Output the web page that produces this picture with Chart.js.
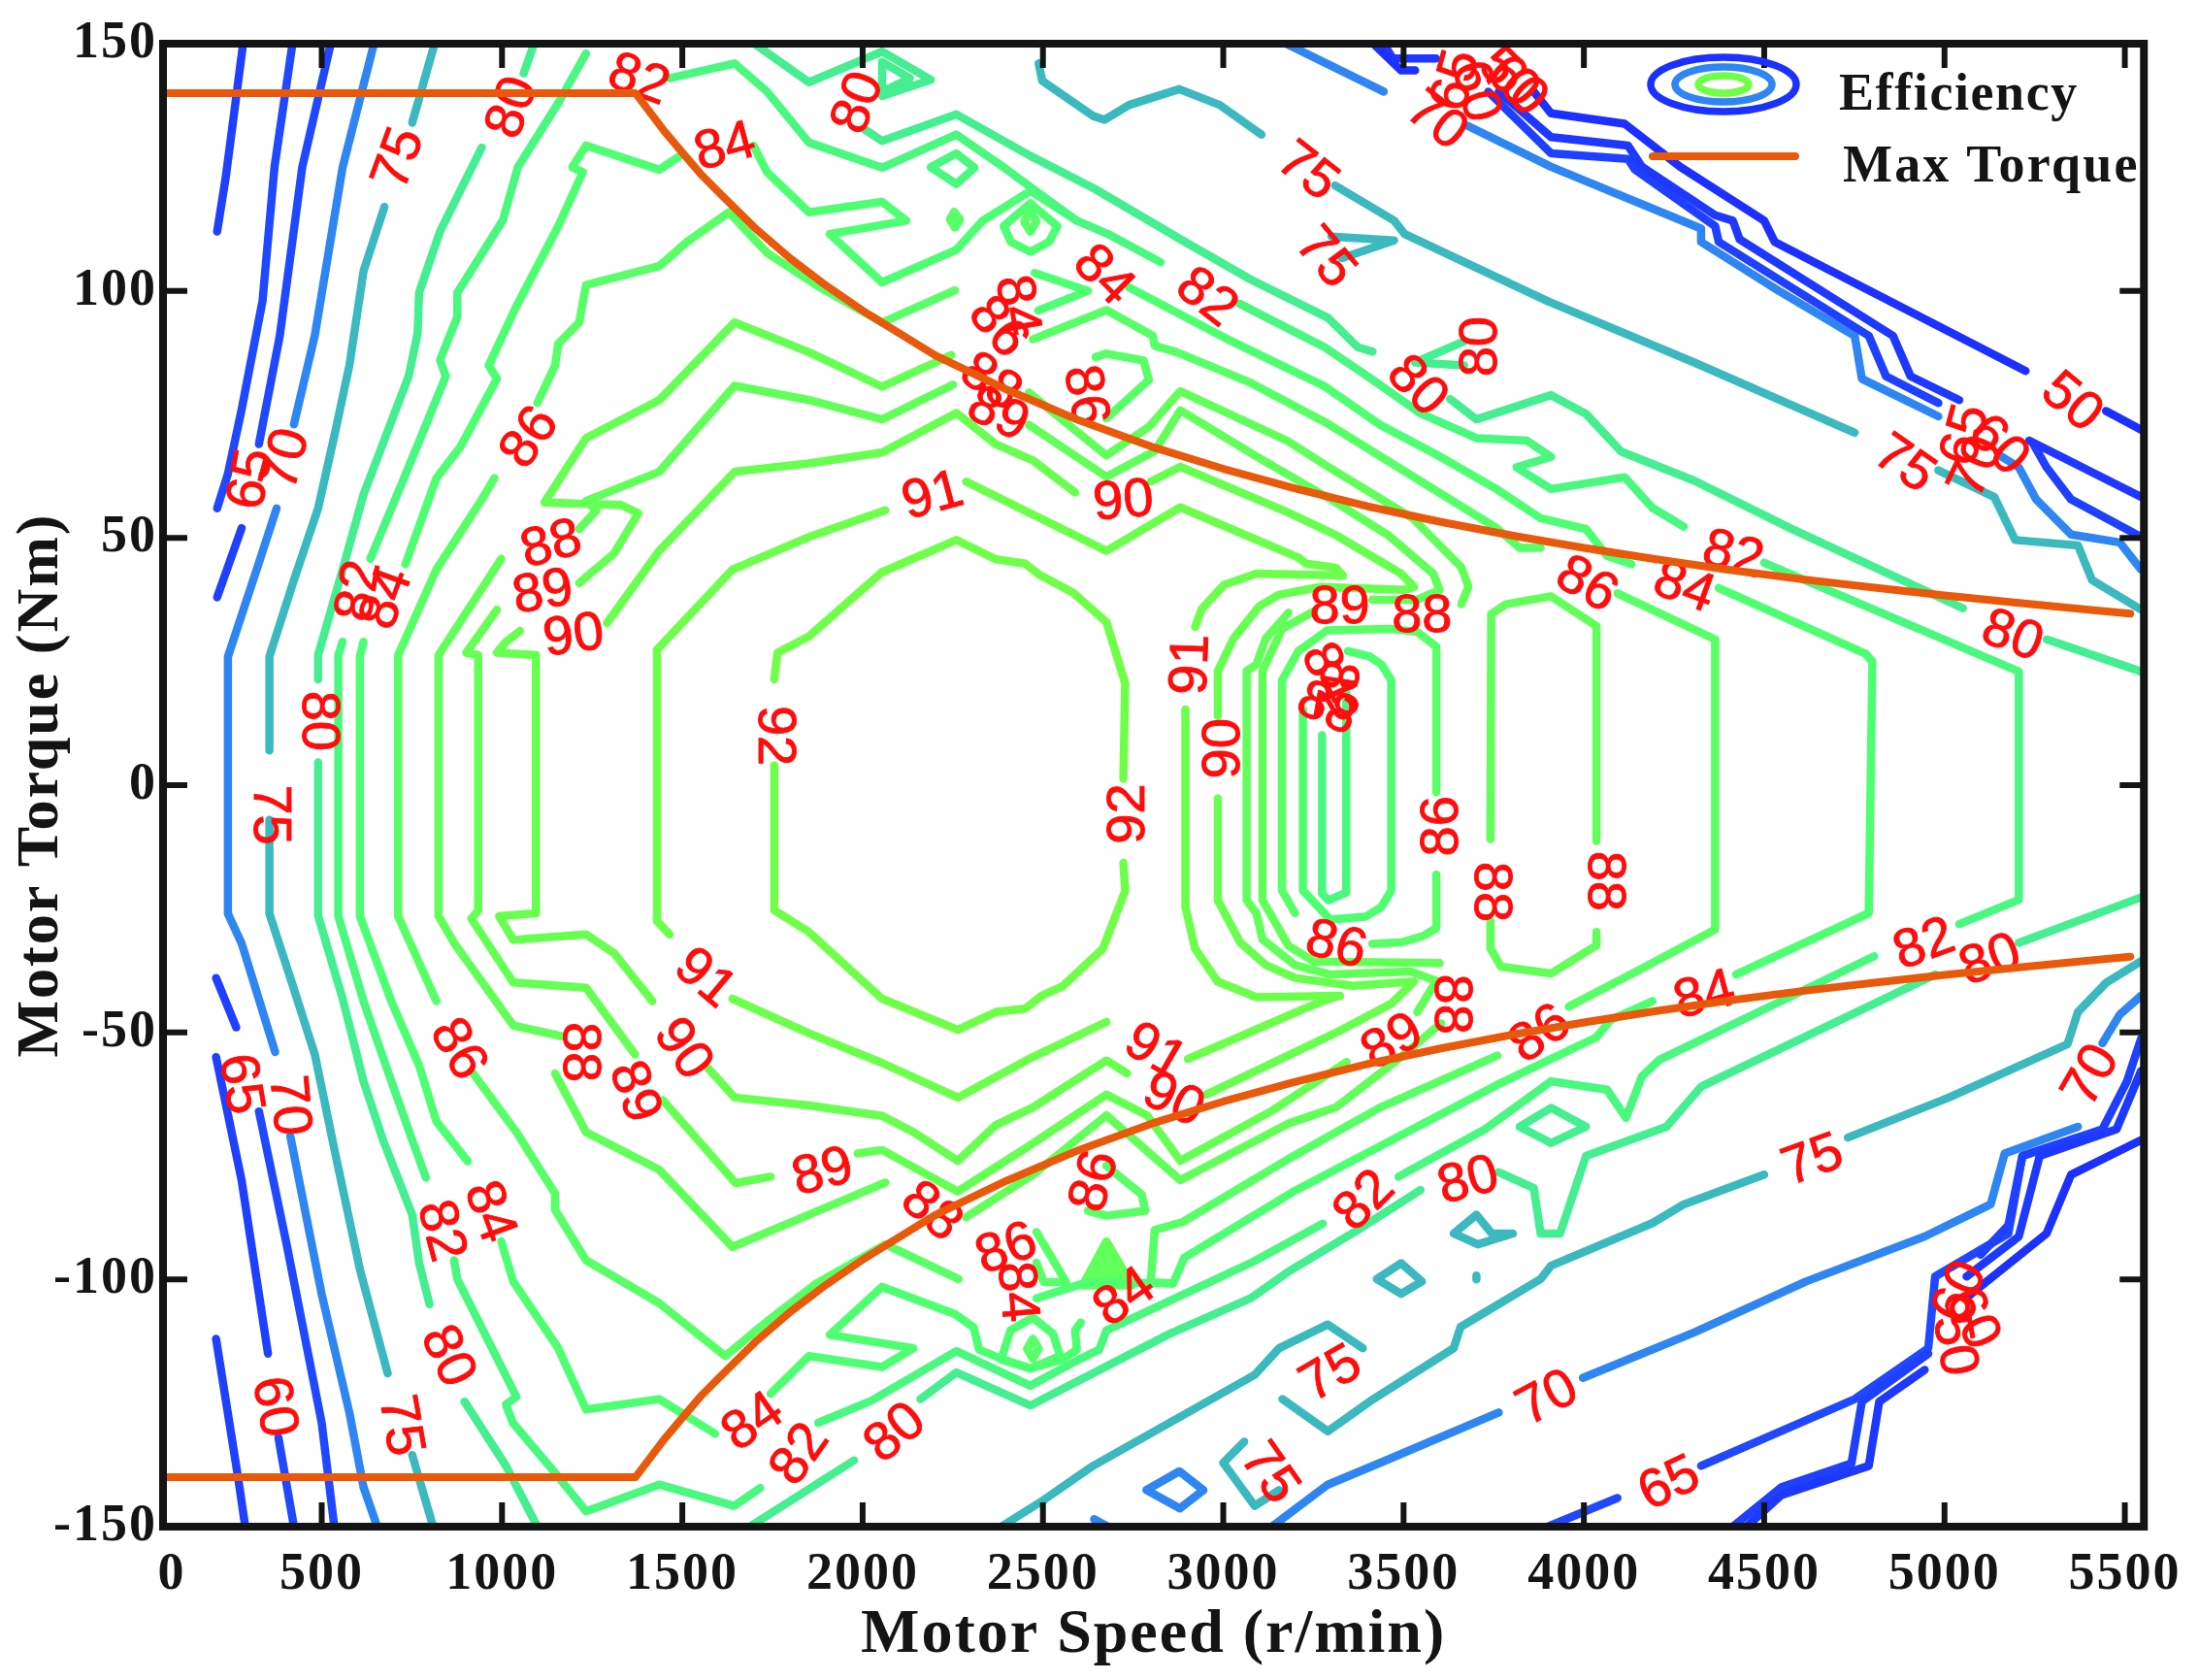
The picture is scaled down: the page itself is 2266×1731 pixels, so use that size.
<!DOCTYPE html>
<html><head><meta charset="utf-8">
<style>html,body{margin:0;padding:0;background:#fff}canvas{display:block}</style>
<script src="https://cdn.jsdelivr.net/npm/chart.js@4"></script>
</head><body><canvas id="c" width="2266" height="1731"></canvas>
<script>
// ---- axes
const xTickValues=[84,500,1000,1500,2000,2500,3000,3500,4000,4500,5000,5500];
const xTickLabels=["0","500","1000","1500","2000","2500","3000","3500","4000","4500","5000","5500"];
const yTickValues=[-150,-100,-50,0,50,100,150];
const xTitle="Motor Speed (r/min)", yTitle="Motor Torque (Nm)";
const legendLabels=["Efficiency","Max Torque"];
// ---- max torque curve
const torqueSpeed=[60,1370,1450,1500,1550,1600,1700,1800,1900,2000,2200,2400,2600,2800,3000,3200,3400,3600,3800,4000,4200,4400,4600,4800,5000,5200,5400,5515];
const torqueUpper=[140,140,132.3,128,123.7,120,112.8,106.5,101,96,87,80,73.8,68.5,64,60,56.4,53.3,50.5,48,45.7,43.6,41.7,40,38.4,36.9,35.5,34.7];
const torqueLower=[-140,-140,-132.3,-128,-123.7,-120,-112.8,-106.5,-101,-96,-87,-80,-73.8,-68.5,-64,-60,-56.4,-53.3,-50.5,-48,-45.7,-43.6,-41.7,-40,-38.4,-36.9,-35.5,-34.7];
// ---- contour pieces: x,y pairs
const c50a=[3416,150,3493,144.6,3532,144.6];
const c50b=[3861,140.3,3909,135.9,4113,133.8,4267,125.1,4500,114.2,4529,109.9,5225,83.8];
const c50c=[5448,75.7,5545,71.9];
const c50d=[5061,-103.7,5283,-90.7,5351,-78.8,5545,-71.8];
const c55a=[3445,150,3470,147,3590,147];
const c55b=[3764,140.3,3909,131.1,4122,129.4,4161,125.1,4364,115.3,4413,114.2,4432,110.4,4857,90.9,4906,82.7,5041,77.9];
const c55c=[5235,69.7,5545,58.3];
const c55d=[5061,-99.4,5206,-91.3,5264,-75,5477,-69.6,5545,-57.8];
const c55e=[4451,-150,4548,-143.6,4790,-137.7,4819,-124.7,4945,-118.3];
const c60a=[282,150,259,137,234,123,210,112];
const c60b=[278,52,210,38];
const c60c=[207,-39,263,-49];
const c60d=[207,-55,278,-80,351,-115];
const c60e=[207,-112,268,-140,288,-150];
const c60f=[3735,140.3,3909,127.8,4122,126.7,4142,124.5,4364,113.1,4374,109.9,4790,90.9,4838,82.7,4983,77.3];
const c60g=[5245,69.2,5283,64.3,5351,57.8,5545,50.2];
const c60h=[4413,-150,4548,-142,4742,-137.2,4771,-124.7,4955,-115];
const c60i=[5100,-95,5177,-89,5216,-75,5438,-69.6,5506,-59.9,5545,-51.3];
const c65a=[419,150,369,125,336,98,278,76,240,63,210,56];
const c65b=[380,-132,423,-150];
const c65c=[525,150,446,125,384,91,326,69];
const c65d=[326,-66,403,-93,500,-129,535,-150];
const c65e=[3900,-150,4093,-144.2];
const c65f=[4325,-137.7,4751,-124.2,4955,-113.9,4974,-99.4,5177,-90.7,5216,-75,5370,-71.3];
const c70a=[645,150,558,125,481,91,423,73];
const c70b=[375,56,326,45,240,26,240,-26,278,-32,371,-54];
const c70c=[413,-71,500,-103,577,-127,616,-142,654,-150];
const c70d=[3174,150,3445,140.3];
const c70e=[3677,133.4,3909,125.1,4325,112.6,4325,109.9,4538,100.1,4751,90.9,4771,82.2,4983,74.6];
const c70f=[5158,66.5,5206,64.3,5254,57.8,5351,50.7,5486,49.1,5545,43.6];
const c70g=[3135,-150,3290,-141.5,3435,-137.1,3764,-126.9];
const c70h=[3997,-119.9,4306,-110.7,4616,-100.4,4945,-91.3,5128,-84.8,5167,-74.5,5370,-69.1];
const c70i=[5438,-52.2,5486,-46.4,5545,-42.6];
const c70j=[2787,-142.6,2878,-138.8,2945,-142.6,2880,-146.3,2787,-142.6];
const c70k=[2642,-148.5,2680,-150];
const c75a=[813,150,751,134];
const c75b=[674,117,616,104,577,85,539,72,490,56,423,41.5,355,26,355,7];
const c75c=[355,-7,355,-26,413,-39,481,-54.5,539,-75,606,-98,683,-119];
const c75d=[751,-135.5,809,-150];
const c75e=[2488,146,2498,142.5,2638,135.4,2671,134.6,2739,137.6,2878,140.8,2990,137.6,3106,131.6];
const c75f=[3310,121.3,3474,114.2,3503,111.5,3900,97.9,4306,85.5,4751,71.3];
const c75g=[4983,63.7,5138,58.3,5196,49.6,5370,48.5,5409,41.5,5545,35.5];
const c75h=[3300,111,3474,110.2,3329,106.6];
const c75i=[2384,-150,2500,-144.7,2639,-137.7,3087,-119.3,3155,-113.9,3290,-109.1,3387,-113.9];
const c75j=[3164,-124.2,3290,-130.7,3416,-124.2,3639,-113.9,3658,-109.6,3880,-99.9,3909,-97.2,4190,-88.6,4277,-84.8,4500,-78.8];
const c75k=[4732,-71.3,5012,-63.2,5341,-52.4,5370,-45.9,5448,-40,5545,-35.6];
const c75l=[3058,-132.8,3000,-137.1,3087,-145.8,3155,-142.6];
const c75m=[3426,-99.9,3493,-96.7,3551,-100.4,3493,-102.9,3426,-99.9];
const c75n=[3639,-90.7,3702,-86.9,3745,-90.7,3803,-90.7,3706,-92.9,3639,-90.7];
const c75o=[3702,-99.2,3702,-100];
const c80a=[1089,150,1060,144];
const c80b=[944,129,828,112,770,99.6,766,91.4,741,82.7,616,58.8,558,43.6,490,26.3,490,21.4];
const c80c=[490,4.6,490,-26.4,558,-43.2,616,-59.9,670,-71.8,751,-86.9,770,-96.6,799,-105];
const c80d=[896,-124.7,1011,-137.7,1098,-150];
const c80e=[1700,150,1851,142.2,2054,148.4,2189,142.7,2054,139.4];
const c80f=[2054,146.3,2131,143,2054,140.2,2054,146.3];
const c80g=[2005,132.7,2054,130.3,2260,135.7,2465,127.3,2642,120.7,2894,109.9,3076,102.3,3291,94.5,3373,88.6,3414,87.7];
const c80h=[3629,78.1,3702,74,3909,78.9,4006,75.1,4103,67.5,4306,61.6,4577,51.8,5051,35.8];
const c80i=[5283,29.5,5545,23];
const c80j=[3668,89.8,3532,85.5,3668,84.9];
const c80k=[1687,-150,1976,-136.6];
const c80l=[2160,-124.2,2260,-118.8,2465,-125.5,2851,-111,3076,-103.8,3179,-98.5,3373,-90,3547,-81.9];
const c80m=[3764,-78.3,3861,-81.5,3880,-90.7,3934,-90.7,4006,-75,4229,-69.1,4325,-61,4974,-38.3];
const c80n=[5206,-31.9,5545,-22.7];
const c80o=[3822,-69.1,3909,-65.3,4006,-69.1,3909,-72.4,3822,-69.1];
const c82a=[1233,148,1156,138,1044,125,1002,114.2,876,99.6,876,94.7,828,86,844,82.7,722,61,635,45.8];
const c82b=[558,29,546,26.3,546,-26.5,616,-43.7,683,-57.8,751,-71.8,789,-79.4];
const c82c=[867,-96.1,876,-99.9,1040,-123.7,1011,-125.3,1030,-129,1156,-139.9,1233,-146.9,1436,-141.5,1644,-145.8,1716,-142.2];
const c82d=[1877,-129,2025,-124.5,2260,-114.5,2465,-121.5,2605,-116,2656,-114.2,2676,-110.3,3086,-96.3,3276,-88.7];
const c82e=[3486,-79.2,3726,-69.6,3909,-59.9,4064,-61.6,4117,-67.3,4161,-58.9,4209,-55.6,4805,-34.6];
const c82f=[5041,-28.1,5206,-23.2,5206,23,4500,45];
const c82g=[1465,143,1645,146,1735,140.3,1851,130,2054,124.9,2260,131.6,2391,125,2465,121,2594,114.2,2680,111.5,2826,105.8];
const c82h=[3045,97.4,3281,88.6,3414,82,3547,75.2,3702,70.2,3842,69.7,3909,66.4,3813,64.3,3909,59.9,4113,62.3,4190,56.1,4277,52.3];
const c82i=[3274,10.1,3274,-22,3292,-23.3,3341,-21.7,3341,20];
const c82j=[2189,125,2260,127.8,2310,124.9,2260,121.6,2189,125];
const c84a=[1494,127.3,1436,124.5,1233,129.4,1195,125,1224,124,1156,113.1,1040,96.9,963,84.9,986,82.2,886,68.6,818,62.1,732,44.7];
const c84b=[616,29,606,26,606,-26.5,693,-43.7,770,-56.7,818,-68,905,-76.1];
const c84c=[998,-92.3,1031,-100.4,1156,-113.9,1233,-126.3,1436,-124.2,1591,-131.2];
const c84d=[1745,-123.1,1851,-115.5,2054,-117.7,2141,-113.9,1909,-111.2,2054,-101.5,2256,-107,2308,-109.7,2323,-114.2,2390,-116.2,2465,-118,2554,-116.2,2594,-114.2,2589,-110.3,2605,-108.7];
const c84e=[1697,129.4,1735,124,1851,115.9,2054,118,2121,114.2,1909,111.5,2054,101.7,2260,108.3,2333,114.2,2465,120.2,2594,114.2];
const c84f=[2738,100.7,3004,90.5,3281,80.7,3435,72.9,3588,67,3760,59.8,3880,54,4006,51.8,4064,46.4,4132,44.7];
const c84g=[4374,39.9,4781,26.6,4800,25,4790,-25.9,4422,-38.3];
const c84h=[4190,-43.7,4074,-47.5,4035,-51,3760,-60.6,3200,-82,2892,-95.6,2861,-100.8,2625,-100.5,2482,-103.8];
const c84i=[2477,103.6,2625,100,2487,96];
const c84j=[3346,27.1,3404,26.1,3439,24.4,3466,21.2,3466,-21.3,3439,-24.6,3395,-26.6,3297,-27.2,3221,-21.3,3221,15.3];
const c84k=[2391,113.1,2465,117.7,2540,113.1,2517,109.9,2465,107.9,2411,109.9,2391,113.1];
const c84l=[2384,-116.2,2410,-110.3,2472,-107.7,2528,-111,2548,-115.5,2465,-118,2384,-116.2];
const c86a=[979,62.1,944,57.8,818,43.6,712,26.3,712,-26.5,818,-43.7];
const c86b=[1098,77.3,1147,84.9,1156,89.3,1214,93.6,1233,101.2,1436,105,1513,109.9,1629,115.9,1735,107.7,1870,101.2,2054,93.6,2256,100.1];
const c86c=[2472,90.2,2676,96.1,2805,90.9,2810,88.9,2871,87.6,3076,81.4,3281,73.5,3527,62.4,3760,51.9,3822,48,3880,48];
const c86d=[4093,38.8,4364,29.5,4364,-29.2,4171,-36.7,3958,-44.8];
const c86e=[3760,-54.7,3435,-65.2,3179,-75.7,2887,-88.4,2810,-90,2799,-100.5,2861,-100.8];
const c86f=[915,-57.8,1040,-70.2,1147,-82.6,1147,-85.9,1233,-96.1,1436,-104.8,1619,-115.5,1735,-108.5,1870,-100.9,2063,-92.9,2266,-99.9];
const c86g=[2646,86.6,2676,87.3,2779,85.9,2794,82,2676,74.2];
const c86h=[2676,-77,2774,-82.8,2784,-86.1,2676,-87.1,2625,-86.1];
const c86i=[2482,-90.4,2564,-100.5,2502,-100.5,2482,-96.6];
const c86j=[3591,-1.4,3591,28,3538,31,3466,31.6,3288,31.3,3208,27.1,3163,21.2,3163,-21.3,3199,-25.9];
const c86k=[3591,-18.1,3591,-28.9,3555,-30.5,3493,-31.8,3413,-32.1];
const c86l=[2465,116,2482,114,2465,112,2448,114,2465,116];
const c86m=[2472,-112,2488,-114,2472,-116,2456,-114,2472,-112];
const c86n=[2254,116,2270,114.4,2256,112.8,2242,114.4,2254,116];
const c88a=[998,45.8,824,26.3,824,-26.5,867,-31.9,1031,-48.6,1166,-50.8];
const c88b=[1214,51.8,1262,55.6,1233,57.5,1436,63.4,1645,80.8,1851,77.9,2054,74,2251,81];
const c88c=[1147,-58.3,1233,-70.2,1436,-77.8,1639,-93.4,1851,-86.9,2063,-80.4];
const c88d=[2287,-87.4,2482,-78.3,2676,-66.8,2881,-79.9,3179,-68.5,3312,-65.2,3486,-55.4,3604,-48.2];
const c88e=[2461,79.4,2676,66.7,2794,72.5,2881,79.7,3179,69.6,3291,64.4,3527,53.9,3660,44.1,3680,40.2,3660,36.6];
const c88f=[3538,-45.9,3591,-39.6,3520,-37.7,3297,-38.3,3199,-36.4,3109,-31.2,3092,-25.9,3065,-23.3,3065,23.1,3092,24.4,3118,29.7,3181,34.9];
const c88g=[3252,35.2,3163,31.6,3109,23.1,3109,-23.3,3145,-27.9,3181,-32.5,3252,-35.7,3600,-36];
const c88h=[3413,37.5,3538,37.5,3600,39.5,3582,42.8,3457,50.6,3312,57.2,3097,66.3,2881,75.8,2810,67.6,2676,62.4,2461,72.9];
const c88i=[3741,-10.9,3743,34.6,3784,36.6,3909,38.2,4035,32.2,4035,-11.3];
const c88j=[4035,-29.7,4035,-32.4,3909,-38.1,3770,-36.7,3741,-33,3741,-27.5];
const c88k=[2610,-101.2,2676,-92.3,2748,-101.2,2610,-101.2,2676,-95,2720,-99.5,2650,-99.5,2676,-97,2700,-100];
const c89a=[986,35.5,901,26.8,934,26.3,934,-25.4,915,-27,1031,-39.9,1233,-41,1369,-54.5];
const c89b=[1214,40.9,1311,46.9,1378,55,1330,56.7,1118,57.2,1233,70.2,1436,77.9,1645,93.6,1851,87.6,2054,80.6,2246,87];
const c89c=[1446,-63.7,1648,-80.5,1745,-79.2];
const c89d=[1986,-74.5,2054,-73.8,2264,-82.2,2461,-73,2676,-62.6,2789,-66.8,2881,-76,3137,-65.8,3342,-56];
const c90a=[1050,31.2,1011,29,986,26.8,1094,26.3,1094,-25.9,992,-26.5,1031,-31.3,1233,-30.2,1311,-34,1417,-43.7];
const c90b=[1291,32.8,1436,47.4,1645,63.4,1851,65.1,2054,67.3,2260,75.3,2369,69,2472,65.7,2589,59.2];
const c90c=[2799,61.4,2881,64.4,3179,55.2,3312,50.6,3493,42.8,3529,40.1,3502,39.5,3270,40.1,3154,38.5,3100,36.2,3029,29.7,2985,23.1,2985,14];
const c90d=[2985,-2.7,2985,-23.3,3047,-31.8,3118,-36.4,3199,-39,3359,-40.6,3529,-39.7,3466,-44.2,3312,-50.1,2953,-62.6];
const c90e=[1571,-57.2,1645,-63.2,1851,-64.8,2054,-66.9,2141,-70.2,2264,-76,2369,-68.8,2472,-65.2,2676,-55.7,2733,-58.3];
const c91a=[2063,55.6,1851,50.2,1639,43.6,1430,27.4,1430,-27.5,1465,-30.2];
const c91b=[1639,-43.2,1851,-50.2,2054,-56.2,2264,-63.2,2461,-55.4,2676,-47.9];
const c91c=[2287,61.4,2676,47.4,2881,56.2,3209,46,3230,44.8,3312,44,3332,42.4,3092,42.8,3002,40.5,2940,35.6,2922,32];
const c91d=[2895,15.3,2895,-24.6,2922,-33.1,2984,-39.7,3092,-42.9,3324,-42.6,3279,-43.6,3216,-45.5,2902,-55.4];
const c92a=[1755,21.4,1764,26.8,1851,30.1,2054,43.1,2260,49.6,2369,45.7,2451,44.8,2492,42.5,2584,38.9,2676,33,2728,20.6,2723,1.3];
const c92b=[1755,4,1755,-25.3,1851,-29.7,2054,-43.2,2264,-49.5,2369,-45.9,2451,-45.2,2497,-42.6,2554,-40.7,2666,-33.1,2728,-21.4,2723,-15.7];
const contourPieces=[
 [50,[c50a,c50b,c50c,c50d]],[55,[c55a,c55b,c55c,c55d,c55e]],
 [60,[c60a,c60b,c60c,c60d,c60e,c60f,c60g,c60h,c60i]],
 [65,[c65a,c65b,c65c,c65d,c65e,c65f]],
 [70,[c70a,c70b,c70c,c70d,c70e,c70f,c70g,c70h,c70i,c70j,c70k]],
 [75,[c75a,c75b,c75c,c75d,c75e,c75f,c75g,c75h,c75i,c75j,c75k,c75l,c75m,c75n,c75o]],
 [80,[c80a,c80b,c80c,c80d,c80e,c80f,c80g,c80h,c80i,c80j,c80k,c80l,c80m,c80n,c80o]],
 [82,[c82a,c82b,c82c,c82d,c82e,c82f,c82g,c82h,c82i,c82j]],
 [84,[c84a,c84b,c84c,c84d,c84e,c84f,c84g,c84h,c84i,c84j,c84k,c84l]],
 [86,[c86a,c86b,c86c,c86d,c86e,c86f,c86g,c86h,c86i,c86j,c86k,c86l,c86m,c86n]],
 [88,[c88a,c88b,c88c,c88d,c88e,c88f,c88g,c88h,c88i,c88j,c88k]],
 [89,[c89a,c89b,c89c,c89d]],[90,[c90a,c90b,c90c,c90d,c90e]],
 [91,[c91a,c91b,c91c,c91d]],[92,[c92a,c92b]]];
const levelColors={50:"#1c30ff",55:"#1e38ff",60:"#1f40ff",65:"#2048ff",70:"#2f86f2",75:"#3bb9bf",80:"#45ee90",82:"#4af87f",84:"#4eff72",86:"#58ff66",88:"#62ff5a",89:"#66ff54",90:"#68ff50",91:"#6cff4c",92:"#70ff48"};
// ---- inline contour labels
const labelText=["82","80","75","84","80","86","65","70","88","89","90","91","82","84","80","92","75",
"75","75","70","65","60","50","60","84","82","80","80","90","86","84","82","80","89","88","91","90","92","86","50","75","60","65","70",
"84","86","88","89","86","84","82","88",
"91","86","88","89","90","65","70","89","88","84","82","80","60","75","84","82","80","86","84","86","90","91","89","88","86","84","82","80",
"86","84","82","80","88","88","70","75","75","70","65","75","60","60","50"];
const labelX=[1378,1031,716,1619,1990,1079,307,403,1137,1114,1199,2195,606,683,490,1755,355,
3232,3281,3590,3648,3697,3790,3813,2666,2952,3716,3536,2723,4006,4277,4413,5187,3323,3551,2913,3002,2739,3609,5351,4887,5148,5061,5090,
2425,2374,2354,2374,2615,3288,3306,3288,
1561,876,1214,1365,1500,272,407,1890,2189,963,828,847,365,716,1697,1828,2092,2646,2425,2400,2861,2810,3470,3629,3312,2728,3393,3680,
3880,4335,4945,5128,3741,4055,5409,4635,3300,3900,4238,3126,5045,5075,5025];
const labelY=[142.5,137,126.7,128.9,138,70.2,61.9,65.9,48.5,38.8,30,58.3,39.3,37.7,13,10,-6,
124,106.6,134.3,142.5,140.3,143,141.3,103,98.5,88.7,80.6,57.2,40.4,39.8,46.4,30,35.8,34.1,24.4,7.4,-5.8,-8.3,77.3,64.8,68.6,70.8,64.3,
97,92.5,81.4,74.8,78.8,22.5,19.2,15.3,
-39.2,-53.5,-54,-62.1,-53.5,-60.5,-64.8,-78.5,-86.4,-86.4,-90.2,-115.6,-125.8,-129.6,-129,-135.5,-131.2,-80.2,-102.5,-94,-63.9,-54.1,-52.1,-44.3,-32.5,-103.8,-84.2,-80.2,
-50.5,-42.7,-32.4,-35.6,-21.6,-19.4,-58.8,-76.1,-119.3,-124.2,-141.5,-139.3,-102.6,-108,-113.4];
const labelAngle=[20,-70,-70,-15,-70,-55,-80,-75,-15,-10,-8,-15,-80,-70,90,90,90,
38,50,38,-75,75,45,45,45,38,-90,45,-5,30,20,15,20,0,0,-88,-90,-90,-90,40,35,45,-75,-65,
80,50,35,25,80,65,100,25,
40,60,90,70,55,80,85,-15,40,70,75,65,80,80,-35,-55,-40,-75,85,-20,25,30,-30,90,15,-35,-45,-15,
-35,-15,-20,-20,90,90,-60,-20,-30,-28,-25,55,-65,65,80];

const toPoints=a=>{const p=[];for(let i=0;i<a.length;i+=2)p.push({x:a[i],y:a[i+1]});return p;};
const datasets=[];
contourPieces.forEach(([lv,pieces])=>pieces.forEach(a=>datasets.push({label:String(lv),data:toPoints(a),borderColor:levelColors[lv],order:0})));
const orange="#e8590c";
datasets.push({label:"Max Torque",data:torqueSpeed.map((x,i)=>({x,y:torqueLower[i]})),borderColor:orange,borderWidth:8,order:-1});
const firstTorqueIndex=datasets.length-1;
datasets.push({label:"Max Torque",data:torqueSpeed.map((x,i)=>({x,y:torqueUpper[i]})),borderColor:orange,borderWidth:8,order:-2});

const ink="#141414";
const serifBold=s=>`bold ${s}px "Liberation Serif"`;
const decor={id:"decor",
 beforeUpdate(chart){chart.ctx.letterSpacing="2px";},
 beforeDraw(chart){chart.ctx.letterSpacing="2px";},
 beforeDatasetDraw(chart,args){
  if(args.index!==firstTorqueIndex)return;
  const {ctx,scales:{x,y},chartArea:a}=chart;
  ctx.save();ctx.beginPath();ctx.rect(a.left,a.top,a.right-a.left,a.bottom-a.top);ctx.clip();
  ctx.letterSpacing="0px";
  ctx.fillStyle="#ff0d0d";ctx.strokeStyle="#ff0d0d";ctx.lineWidth=0.9;ctx.font='56px "Liberation Sans"';ctx.textAlign="center";ctx.textBaseline="middle";
  labelText.forEach((t,i)=>{ctx.save();ctx.translate(x.getPixelForValue(labelX[i]),y.getPixelForValue(labelY[i]));ctx.rotate(labelAngle[i]*Math.PI/180);ctx.fillText(t,0,0);ctx.strokeText(t,0,0);ctx.restore();});
  ctx.restore();
 },
 afterDatasetsDraw(chart){
  const {ctx,scales:{x,y},chartArea:a}=chart;
  ctx.save();ctx.strokeStyle=ink;ctx.lineCap="butt";
  ctx.lineWidth=6;ctx.beginPath();
  xTickValues.slice(1).forEach(v=>{const p=x.getPixelForValue(v);ctx.moveTo(p,a.top);ctx.lineTo(p,a.top+25);ctx.moveTo(p,a.bottom);ctx.lineTo(p,a.bottom-25);});
  yTickValues.slice(1,-1).forEach(v=>{const p=y.getPixelForValue(v);ctx.moveTo(a.left,p);ctx.lineTo(a.left+25,p);ctx.moveTo(a.right,p);ctx.lineTo(a.right-25,p);});
  ctx.stroke();
  ctx.lineWidth=8;ctx.lineJoin="miter";ctx.strokeRect(a.left,a.top,a.right-a.left,a.bottom-a.top);
  // legend
  const ell=(rx,ry,c)=>{ctx.strokeStyle=c;ctx.lineWidth=7.5;ctx.beginPath();ctx.ellipse(1776,87,rx,ry,0,0,2*Math.PI);ctx.stroke();};
  ell(75,28,levelColors[50]);ell(50,18,levelColors[70]);ell(26,9,levelColors[92]);
  ctx.strokeStyle=orange;ctx.lineWidth=8;ctx.lineCap="round";ctx.beginPath();ctx.moveTo(1703,161);ctx.lineTo(1850,161);ctx.stroke();
  ctx.fillStyle=ink;ctx.font=serifBold(54);ctx.textAlign="left";ctx.textBaseline="alphabetic";
  ctx.letterSpacing="1.6px";ctx.fillText(legendLabels[0],1895,113);
  ctx.letterSpacing="2.2px";ctx.fillText(legendLabels[1],1899,187);
  ctx.letterSpacing="2px";
  ctx.restore();
 }};
new Chart(document.getElementById("c"),{type:"scatter",
 data:{datasets},
 plugins:[decor],
 options:{responsive:false,animation:false,devicePixelRatio:1,
  layout:{padding:{top:45,right:46,left:0,bottom:0}},
  elements:{line:{borderWidth:8.5,tension:0,borderJoinStyle:"round",borderCapStyle:"round",fill:false},point:{radius:0,hoverRadius:0}},
  datasets:{scatter:{showLine:true,pointRadius:0}},
  plugins:{legend:{display:false},tooltip:{enabled:false}},
  scales:{
   x:{type:"linear",min:60,max:5553,grid:{display:false,drawTicks:false},border:{display:false},
    afterBuildTicks:s=>{s.ticks=xTickValues.map(v=>({value:v}));},
    afterFit:s=>{s.height=158;},
    ticks:{autoSkip:false,maxRotation:0,minRotation:0,padding:18,color:ink,font:{family:"Liberation Serif",weight:"bold",size:54},callback:(v,i)=>xTickLabels[i]},
    title:{display:true,text:xTitle,color:ink,font:{family:"Liberation Serif",weight:"bold",size:64},padding:{top:0,bottom:7}}},
   y:{type:"linear",min:-150,max:150,grid:{display:false,drawTicks:false},border:{display:false},
    afterBuildTicks:s=>{s.ticks=yTickValues.map(v=>({value:v}));},
    afterFit:s=>{s.width=168;},
    ticks:{autoSkip:false,padding:6,color:ink,font:{family:"Liberation Serif",weight:"bold",size:54},callback:v=>String(v)},
    title:{display:true,text:yTitle,color:ink,font:{family:"Liberation Serif",weight:"bold",size:62},padding:{top:6,bottom:0}}}
  }}});
</script></body></html>
